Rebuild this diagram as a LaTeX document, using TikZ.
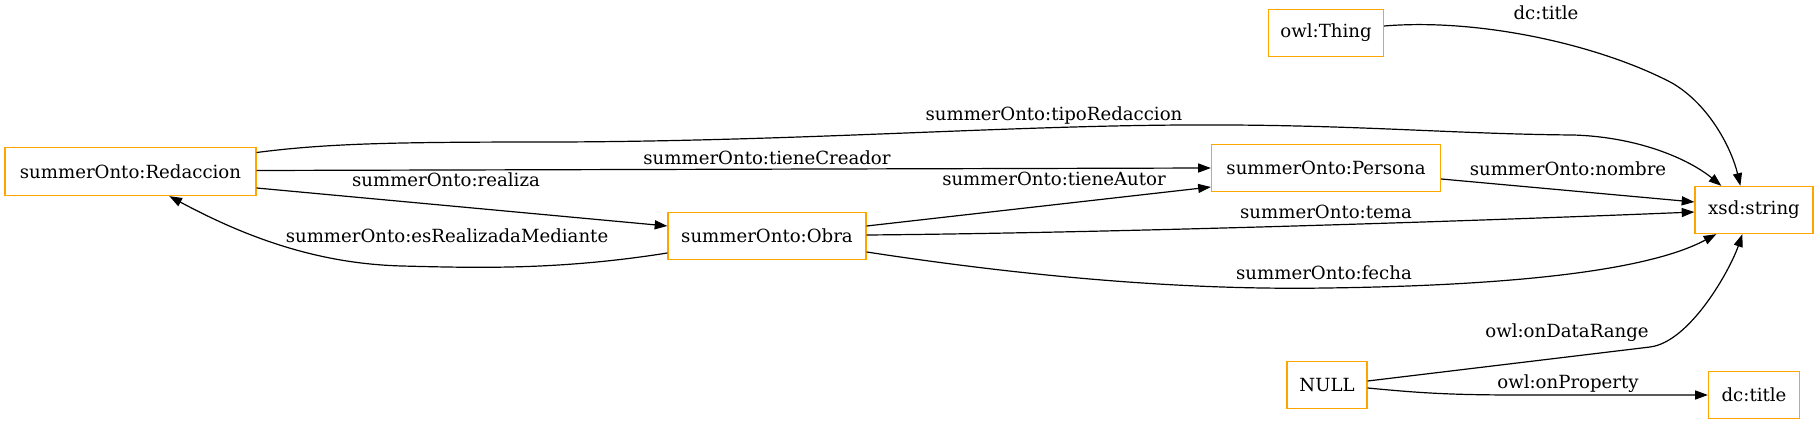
\documentclass[tikz,border=0pt]{standalone}
\usepackage{fontspec}
\setmainfont{DejaVu Serif}
\usetikzlibrary{arrows.meta,calc}
\definecolor{boxorange}{HTML}{FFA500}
\tikzset{
  cls/.style 2 args={draw=boxorange, line width=1pt, fill=white, inner sep=0pt,
    minimum width=#1*0.75pt, minimum height=#2*0.75pt, font=\fontsize{13.6pt}{16pt}\selectfont},
  edge/.style={draw=black, line width=0.9pt, -{Triangle[length=9.5pt,width=6.8pt]}},
  elabel/.style={anchor=base, inner sep=0pt, font=\fontsize{13.6pt}{16pt}\selectfont}
}
\begin{document}
\begin{tikzpicture}[x=0.75pt,y=-0.75pt]
\useasboundingbox (0,0) rectangle (1815,424);
% nodes
\node[cls={251}{48}] (red)   at (130.5,171.5) {summerOnto:Redaccion};
\node[cls={198}{47}] (obra)  at (767,236)   {summerOnto:Obra};
\node[cls={229}{47}] (pers)  at (1326,168)  {summerOnto:Persona};
\node[cls={115}{47}] (thing) at (1326,33)   {owl:Thing};
\node[cls={118}{47}] (xsd)   at (1754,210)  {xsd:string};
\node[cls={80}{47}]  (null)  at (1327,385)  {NULL};
\node[cls={91}{47}]  (dct)   at (1754,395)  {dc:title};
% edges
\draw[edge] ($(thing.east)+(0,-7)$) .. controls (1480,18) and (1600,45) .. (1672,83)
  .. controls (1710,105) and (1732,150) .. ($(xsd.north west)+(46,0)$);
\draw[edge] ($(red.east)+(0,-19)$) .. controls (330,143) and (400,142) .. (560,142)
  .. controls (800,141) and (1000,126) .. (1184,125)
  .. controls (1350,124) and (1450,134) .. (1573,135)
  .. controls (1640,137) and (1690,160) .. ($(xsd.north west)+(27,0)$);
\draw[edge] ($(red.east)+(0,-1)$) -- (pers.west);
\draw[edge] ($(red.east)+(0,16.5)$) -- ($(obra.west)+(0,-10)$);
\draw[edge] ($(obra.west)+(0,17)$) .. controls (560,270) and (480,268) .. (402,266)
  .. controls (330,264) and (260,245) .. ($(red.south west)+(165,0)$);
\draw[edge] ($(obra.east)+(0,-10)$) -- ($(pers.west)+(0,19)$);
\draw[edge] ($(obra.east)+(0,-1)$) .. controls (1100,233) and (1450,222) .. ($(xsd.west)+(0,2)$);
\draw[edge] ($(obra.east)+(0,16)$) .. controls (1050,280) and (1200,290) .. (1326,288)
  .. controls (1480,286) and (1640,275) .. ($(xsd.south west)+(22,0)$);
\draw[edge] ($(pers.east)+(0,11)$) -- ($(xsd.west)+(0,-8)$);
\draw[edge] ($(null.east)+(0,-4)$) -- (1650,347) .. controls (1690,342) and (1730,270) .. ($(xsd.south west)+(48,0)$);
\draw[edge] ($(null.east)+(0,3)$) .. controls (1420,393) and (1450,395) .. (1520,395) -- (dct.west);
% labels
\node[elabel] (l1)  at (1546,19.5)  {dc:title};
\node[elabel] (l2)  at (1054,120.5) {summerOnto:tipoRedaccion};
\node[elabel] (l3)  at (767,164.5)  {summerOnto:tieneCreador};
\node[elabel] (l4)  at (446,186.5)  {summerOnto:realiza};
\node[elabel] (l5)  at (447,242.5)  {summerOnto:esRealizadaMediante};
\node[elabel] (l6)  at (1054,185.5) {summerOnto:tieneAutor};
\node[elabel] (l7)  at (1326,218.5) {summerOnto:tema};
\node[elabel] (l8)  at (1324,279.5) {summerOnto:fecha};
\node[elabel] (l9)  at (1568,175.5) {summerOnto:nombre};
\node[elabel] (l10) at (1567,337.5) {owl:onDataRange};
\node[elabel] (l11) at (1568,388.5) {owl:onProperty};
\end{tikzpicture}
\end{document}
